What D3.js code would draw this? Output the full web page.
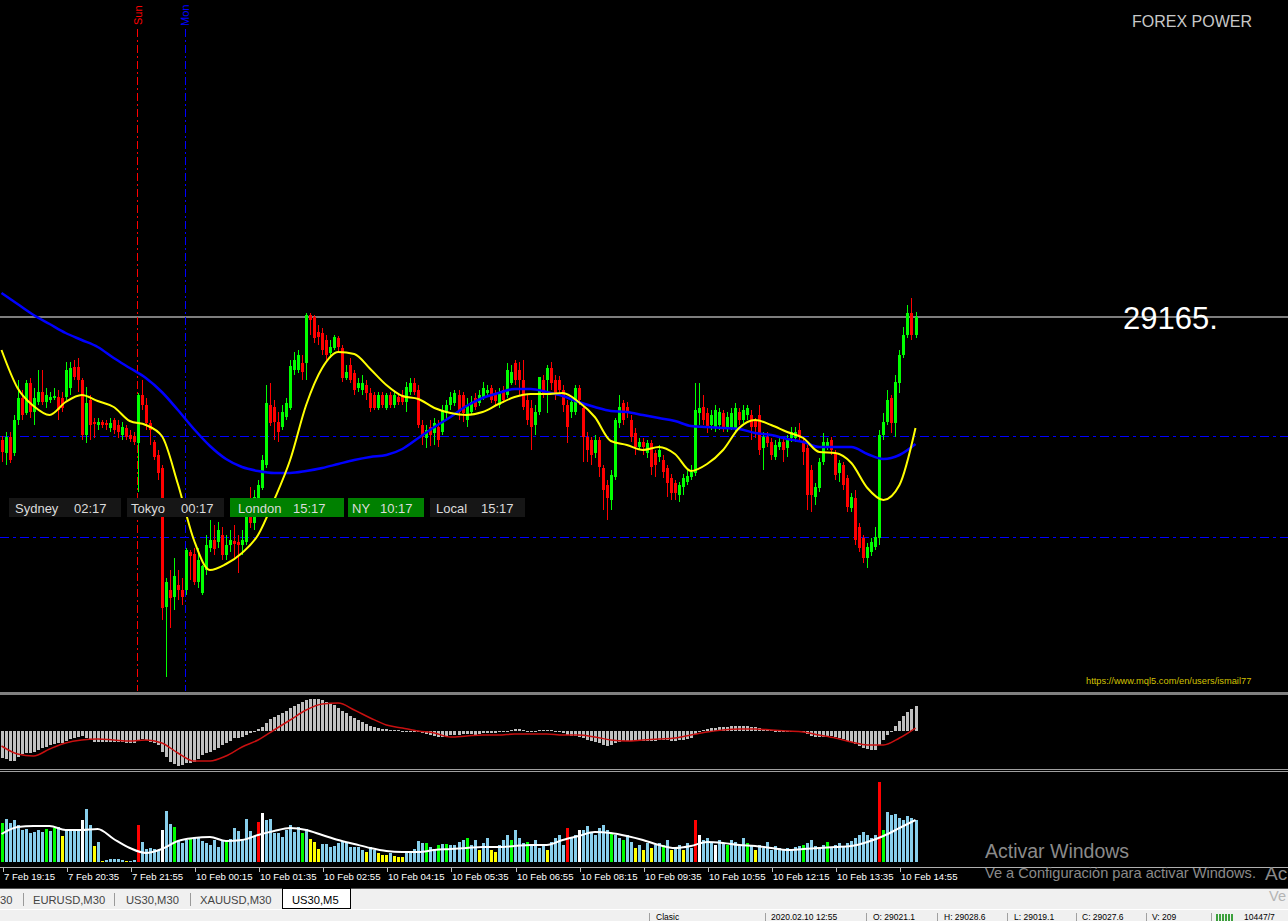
<!DOCTYPE html>
<html><head><meta charset="utf-8">
<script src="https://cdn.jsdelivr.net/npm/d3@7"></script>
<style>
html,body{margin:0;padding:0;background:#000;overflow:hidden}
svg{display:block}
text{font-family:"Liberation Sans",Arial,sans-serif}
</style></head><body>
<svg id="c" width="1288" height="921"></svg>
<script>
// ---------------- DATA ----------------
const opens=[29042,29029,29045,29029,29062,29084,29069,29099,29070,29080,
29090,29080,29082,29084,29085,29084,29085,29094,29115,29115,
29102,29047,29082,29060,29057,29060,29059,29054,29062,29057,
29047,29054,29047,29046,29039,29087,29077,29059,29040,29027,
29014,28875,28892,28885,28897,28892,28892,28930,28928,28900,
28889,28912,28934,28942,28940,28947,28927,28937,28941,28940,
28937,28940,28974,28959,28969,28994,29017,29077,29075,29060,
29055,29065,29074,29112,29112,29119,29119,29167,29165,29150,
29149,29142,29129,29134,29144,29134,29104,29117,29109,29094,
29092,29097,29089,29087,29074,29087,29074,29087,29077,29085,
29087,29080,29090,29099,29092,29057,29044,29055,29049,29055,
29050,29069,29077,29079,29087,29087,29062,29070,29084,29079,
29084,29089,29094,29089,29077,29092,29087,29099,29119,29112,
29102,29082,29074,29057,29070,29102,29102,29114,29102,29102,
29092,29077,29070,29070,29094,29074,29045,29042,29029,29042,
29014,28997,28982,29005,29059,29079,29075,29062,29049,29035,
29040,29029,29039,29029,29025,29022,29014,29004,28999,28987,
28995,29000,29005,29009,29069,29075,29069,29057,29055,29057,
29069,29054,29054,29054,29070,29062,29067,29067,29062,29067,
29034,29045,29040,29025,29035,29040,29034,29044,29044,29052,
29040,29034,29012,28985,28994,29020,29035,29042,29029,29009,
29017,29004,28974,28984,28955,28944,28924,28930,28935,28944,
29047,29060,29084,29059,29099,29127,29147,29169,29147];
const highs=[29046,29050,29050,29067,29102,29092,29102,29104,29094,29112,
29112,29094,29090,29094,29092,29090,29120,29120,29122,29124,
29104,29095,29087,29064,29064,29062,29062,29064,29064,29062,
29060,29057,29052,29050,29089,29102,29084,29062,29042,29032,
29017,28904,28912,28924,28912,28904,28934,28932,28934,28934,
28917,28947,28962,28957,28960,28955,28947,28952,28957,28947,
28952,28977,28995,28992,29002,29027,29097,29099,29082,29070,
29077,29084,29122,29130,29132,29127,29169,29169,29167,29157,
29154,29147,29142,29147,29146,29137,29117,29124,29112,29104,
29107,29102,29094,29090,29090,29090,29089,29090,29090,29089,
29092,29100,29104,29104,29097,29062,29057,29062,29064,29062,
29077,29082,29090,29092,29092,29090,29084,29086,29089,29092,
29100,29097,29097,29092,29094,29096,29119,29117,29122,29120,
29122,29087,29082,29077,29105,29107,29117,29120,29107,29106,
29097,29082,29084,29097,29097,29077,29050,29045,29047,29045,
29017,29002,29012,29064,29087,29082,29080,29067,29054,29044,
29044,29042,29042,29032,29037,29027,29017,29008,29002,29000,
29008,29012,29017,29099,29099,29087,29074,29072,29077,29074,
29072,29070,29074,29079,29074,29077,29077,29072,29064,29077,
29050,29050,29044,29042,29045,29044,29047,29055,29055,29059,
29044,29037,29017,28999,29024,29049,29044,29045,29032,29022,
29020,29007,28989,28992,28959,28947,28939,28944,28955,29052,
29069,29092,29087,29107,29132,29155,29177,29184,29170];
const lows=[29020,29017,29019,29026,29057,29062,29067,29064,29057,29077,
29077,29074,29079,29082,29062,29070,29082,29087,29102,29090,
29042,29039,29042,29044,29052,29054,29052,29050,29048,29044,
29042,29042,29040,29037,28990,29072,29052,29037,29022,29002,
28862,28805,28854,28872,28882,28877,28887,28902,28897,28894,
28887,28907,28930,28927,28934,28922,28922,28930,28922,28909,
28927,28937,28954,28952,28966,28992,29014,29056,29042,29040,
29052,29062,29072,29107,29109,29102,29102,29147,29139,29137,
29127,29122,29124,29132,29130,29100,29102,29099,29087,29090,
29087,29082,29070,29072,29072,29074,29072,29074,29074,29077,
29077,29070,29087,29087,29054,29037,29034,29036,29037,29035,
29047,29062,29072,29076,29062,29060,29055,29067,29072,29076,
29082,29086,29079,29077,29074,29079,29084,29097,29097,29087,
29072,29057,29032,29047,29067,29084,29069,29092,29082,29087,
29070,29039,29064,29067,29077,29020,29020,29017,29024,29005,
28972,28962,28972,29002,29054,29057,29064,29040,29027,29032,
29027,29024,29007,29005,29020,29004,28985,28982,28982,28980,
28987,28997,29002,29006,29057,29057,29049,29052,29050,29052,
29050,29050,29052,29050,29057,29059,29062,29042,29044,29027,
29012,29035,29022,29022,29032,29020,29025,29040,29040,29042,
29017,28972,28970,28977,28990,29017,29032,29027,29002,29000,
28992,28970,28970,28937,28930,28919,28914,28926,28932,28937,
29042,29057,29049,29045,29089,29124,29144,29142,29144];
const closes=[29030,29045,29022,29062,29084,29067,29099,29070,29084,29090,
29080,29087,29085,29086,29072,29074,29112,29114,29105,29102,
29047,29079,29057,29058,29060,29057,29057,29059,29052,29050,
29055,29045,29043,29040,29087,29077,29059,29052,29025,29009,
28874,28900,28884,28906,28892,28885,28932,28926,28900,28922,
28916,28937,28942,28933,28952,28927,28937,28942,28938,28937,
28942,28965,28959,28985,28997,29022,29079,29059,29060,29050,
29070,29079,29116,29122,29127,29110,29167,29162,29144,29145,
29132,29127,29135,29145,29135,29104,29110,29102,29092,29099,
29099,29089,29074,29074,29087,29077,29087,29077,29087,29080,
29080,29095,29099,29090,29057,29045,29052,29047,29059,29042,
29072,29077,29085,29089,29070,29069,29077,29080,29075,29087,
29094,29092,29082,29081,29089,29082,29112,29110,29102,29102,
29075,29062,29055,29070,29105,29089,29114,29099,29087,29092,
29077,29055,29080,29094,29082,29045,29032,29027,29042,29015,
28992,28984,29007,29062,29075,29062,29070,29045,29035,29040,
29035,29039,29015,29017,29032,29010,28999,28989,28989,28997,
29004,29006,29010,29072,29074,29062,29055,29067,29072,29070,
29055,29065,29069,29074,29062,29072,29074,29055,29055,29032,
29045,29039,29027,29037,29040,29032,29044,29050,29050,29045,
29030,28987,28987,28995,29020,29040,29040,29032,29007,29019,
28997,28975,28985,28942,28934,28924,28935,28940,28945,29047,
29060,29082,29059,29100,29127,29147,29169,29147,29165];

// moving averages, read every 4th bar
const maStep=4;
const fastMA=[29132,29094,29076,29067,29080,29087,29081,29075,29061,29057,
29046,28998,28942,28912,28918,28929,28947,28982,29022,29077,
29114,29130,29128,29113,29097,29086,29083,29074,29069,29067,
29070,29078,29085,29088,29088,29089,29080,29065,29041,29037,
29032,29035,29028,29011,29018,29032,29054,29062,29057,29050,
29044,29030,29029,29019,28994,28982,28997,29054];
const slowMA=[29189,29178,29167,29158,29149,29142,29135,29124,29114,29104,
29090,29072,29053,29036,29023,29015,29011,29009,29009,29011,
29014,29018,29022,29025,29027,29033,29044,29055,29065,29076,
29084,29089,29093,29093,29090,29086,29080,29075,29071,29070,
29067,29064,29061,29056,29055,29054,29053,29049,29047,29043,
29040,29035,29035,29035,29028,29023,29027,29038];

// MACD histogram (per bar) and signal (every 4th bar)
const macdHist=[-27,-28,-30,-30,-26,-23,-22,-22,-21,-19,
-17,-16,-14,-13,-12,-12,-10,-8,-7,-6,
-5,-7,-9,-11,-11,-11,-11,-11,-11,-11,
-11,-12,-12,-12,-9,-8,-9,-11,-12,-14,
-21,-26,-31,-33,-35,-34,-32,-32,-31,-28,
-24,-22,-21,-19,-17,-14,-12,-10,-7,-7,
-6,-4,-2,-1,2,4,8,12,14,16,
18,20,23,25,27,29,31,32,32,32,
31,29,28,26,23,20,18,15,13,11,
9,7,5,4,3,2,2,1,1,1,
0,0,0,0,-1,-2,-3,-4,-5,-6,
-6,-5,-4,-4,-4,-3,-3,-3,-4,-3,
-2,-2,-2,-2,-1,-1,0,1,2,2,
1,0,0,0,1,1,1,1,0,-1,
-2,-4,-5,-5,-6,-7,-9,-10,-11,-12,
-14,-15,-14,-12,-11,-10,-10,-10,-10,-10,
-10,-10,-10,-10,-9,-9,-9,-10,-10,-9,
-9,-8,-7,-3,0,1,2,3,3,4,
4,4,5,5,5,5,5,4,4,3,
2,1,1,0,0,0,0,0,0,0,
-1,-3,-5,-6,-6,-6,-5,-5,-6,-7,
-8,-10,-11,-13,-15,-17,-18,-19,-19,-14,
-9,-4,-1,5,10,15,19,22,25];
const macdSignal=[-15,-23,-25,-18,-12,-9,-8,-9,-10,-9,
-12,-22,-30,-30,-25,-16,-9,1,11,21,
27,28,21,13,6,3,0,-2,-6,-5,
-4,-4,-3,-3,-3,-4,-4,-6,-9,-10,
-9,-8,-7,-4,-1,1,2,2,1,0,
-1,-4,-7,-11,-14,-14,-7,3];

// volume (per bar), bar type codes, and volume average (every 4th bar)
const volumes=[39,43,39,42,37,32,33,29,30,32,
30,33,31,34,35,26,32,32,32,32,
42,53,37,16,20,1,2,3,3,3,
2,1,1,2,37,20,13,14,13,12,
32,51,38,35,21,19,22,24,24,24,
21,19,17,22,15,22,21,23,34,31,
23,43,31,26,40,49,42,43,29,29,
25,32,37,30,35,29,33,23,20,13,
18,18,15,16,19,20,19,15,15,15,
12,10,15,12,9,7,7,9,6,5,
5,11,11,13,21,19,19,15,13,17,
18,18,17,17,20,22,24,17,22,12,
19,24,12,10,17,22,27,22,32,24,
19,20,17,22,14,18,12,20,24,27,
17,34,24,27,32,32,36,30,27,34,
37,32,29,27,24,22,27,20,14,17,
12,19,14,17,19,17,22,12,14,17,
12,19,14,42,27,22,24,20,17,22,
19,17,22,20,17,24,19,16,12,17,
14,20,12,16,14,12,14,12,15,16,
17,19,22,16,14,17,20,14,17,19,
15,19,21,24,27,30,27,24,27,80,
32,50,47,48,44,42,46,44,42];
const volumeTypes=("gbbbbbbbbb"+"bgbgbybbbb"+"wbbybybbbb"+"bybbrbbbbb"+"wbbgbbbgbb"+
"bbbbbbgbbb"+"bbbbrwbbbb"+"bbbbbgbyyy"+"bbbbbbbbbb"+"bybbyyybyy"+
"ybbbbbgbbg"+"bgbbbbgbby"+"bbyybbbgbb"+"bgbbbbybbb"+"brbbwbbbbb"+
"bbgbbgbbyb"+"ybybbgbybb"+"ybbrwbbbwb"+"bgbbbbgbyb"+"bbbbbbbbbb"+
"gbbbbbgbbb"+"bbbbbbbbbr"+"gbbbbbbbb").split("");
const volumeMA=[28,35,36,36,32,32,33,23,14,9,
13,21,24,25,21,22,27,31,34,32,
27,22,18,14,11,10,10,12,13,14,
15,15,16,17,17,22,26,30,29,26,
22,17,14,16,20,19,17,16,14,12,
13,14,15,16,20,26,34,42];

// time axis
const tickIndex=[1,17,33,49,65,81,97,113,129,145,161,177,193,209,225];
const tickLabels=["7 Feb 19:15","7 Feb 20:35","7 Feb 21:55","10 Feb 00:15","10 Feb 01:35",
"10 Feb 02:55","10 Feb 04:15","10 Feb 05:35","10 Feb 06:55","10 Feb 08:15",
"10 Feb 09:35","10 Feb 10:55","10 Feb 12:15","10 Feb 13:35","10 Feb 14:55"];

// annotations
const bidPrice=29165;
const levelPrices=[29046,28945];
const dayNames=["Sun","Mon"];
const dayIndex=[34,46];
const sessionNames=["Sydney","Tokyo","London","NY","Local"];
const sessionTimes=["02:17","00:17","15:17","10:17","15:17"];
const sessionActive=[false,false,true,true,false];
const tabNames=["30","EURUSD,M30","US30,M30","XAUUSD,M30","US30,M5"];
const statusItems=["Clasic","2020.02.10 12:55","O: 29021.1","H: 29028.6","L: 29019.1","C: 29027.6","V: 209","10447/7"];

// ---------------- LAYOUT ----------------
const W=1288,H=921;
const svg=d3.select("#c");
svg.append("rect").attr("width",W).attr("height",H).attr("fill","#000");

const n=opens.length;
const x=d3.scaleLinear().domain([0,n-1]).range([1.5,915.5]);
const y=d3.scaleLinear().domain([28800,29200]).range([682,282]);
const yM=d3.scaleLinear().domain([-35,35]).range([766,696]);
const yV=d3.scaleLinear().domain([0,80]).range([862,782]);
const xs=i=>Math.round(x(i));

svg.append("clipPath").attr("id","mainClip").append("rect").attr("x",0).attr("y",0).attr("width",W).attr("height",691);
const main=svg.append("g").attr("clip-path","url(#mainClip)");

// bid line
main.append("line").attr("x1",0).attr("x2",W).attr("y1",y(bidPrice)).attr("y2",y(bidPrice))
  .attr("stroke","#7d7d7d").attr("stroke-width",2);
// level lines
main.selectAll(".lvl").data(levelPrices).join("line").attr("class","lvl")
  .attr("x1",0).attr("x2",W).attr("y1",d=>Math.round(y(d))+0.5).attr("y2",d=>Math.round(y(d))+0.5)
  .attr("stroke","#0000ff").attr("stroke-width",1).attr("stroke-dasharray","9,4,3,4");
// day separators
const dayColors=["#ff0000","#0000ff"];
main.selectAll(".dayl").data(dayIndex).join("line").attr("class","dayl")
  .attr("x1",d=>xs(d)-0.5).attr("x2",d=>xs(d)-0.5).attr("y1",29).attr("y2",691)
  .attr("stroke",(d,k)=>dayColors[k]).attr("stroke-width",1).attr("stroke-dasharray","8,3,2,3");
main.selectAll(".dayt").data(dayIndex).join("text").attr("class","dayt")
  .attr("transform",(d,k)=>`translate(${xs(d)+(k?3:4)},${k?26:25}) rotate(-90)`)
  .attr("font-size",11).attr("fill",(d,k)=>dayColors[k]).text((d,k)=>dayNames[k]);

// candles
const candles=d3.range(n).map(i=>({i,o:opens[i],h:highs[i],l:lows[i],c:closes[i]}));
const gC=main.append("g").attr("shape-rendering","crispEdges");
const col=d=>d.c>=d.o?"#00ff00":"#ff0000";
gC.selectAll(".wick").data(candles).join("rect").attr("class","wick")
  .attr("x",d=>xs(d.i)).attr("width",1)
  .attr("y",d=>Math.round(y(d.h)))
  .attr("height",d=>Math.max(1,Math.round(y(d.l))-Math.round(y(d.h))))
  .attr("fill",col);
gC.selectAll(".body").data(candles).join("rect").attr("class","body")
  .attr("x",d=>xs(d.i)-1).attr("width",3)
  .attr("y",d=>Math.round(y(Math.max(d.o,d.c))))
  .attr("height",d=>Math.max(1,Math.round(y(Math.min(d.o,d.c)))-Math.round(y(Math.max(d.o,d.c)))))
  .attr("fill",col);

// moving averages
const maLine=d3.line().x((d,k)=>x(k*maStep)).y(d=>y(d)).curve(d3.curveMonotoneX);
main.append("path").attr("d",maLine(slowMA)).attr("fill","none").attr("stroke","#0000ff").attr("stroke-width",2.5);
main.append("path").attr("d",maLine(fastMA)).attr("fill","none").attr("stroke","#ffff00").attr("stroke-width",2);

// session boxes
const boxX=[9,127,230,348,430],boxW=[112,97,114,76,95],nameX=[15,131,238,352,436],timeX=[74,181,293,380,481];
const sg=svg.append("g");
sessionNames.forEach((s,k)=>{
  sg.append("rect").attr("x",boxX[k]).attr("y",498).attr("width",boxW[k]).attr("height",19)
    .attr("fill",sessionActive[k]?"#008000":"#161616");
  sg.append("text").attr("x",nameX[k]).attr("y",512.5).attr("font-size",13).attr("fill","#dcdcdc").text(s);
  sg.append("text").attr("x",timeX[k]).attr("y",512.5).attr("font-size",13).attr("fill","#dcdcdc").text(sessionTimes[k]);
});

// texts in main panel
svg.append("text").attr("x",1132).attr("y",27).attr("font-size",16).attr("fill","#c8c8c8").text("FOREX POWER");
svg.append("text").attr("x",1123).attr("y",329).attr("font-size",31).attr("fill","#ffffff").text(bidPrice+".");
svg.append("text").attr("x",1086).attr("y",684).attr("font-size",9.3).attr("fill","#d0c000").text("https://www.mql5.com/en/users/ismail77");

// separators
svg.append("rect").attr("x",0).attr("y",692).attr("width",W).attr("height",3).attr("fill","#808080");
svg.append("rect").attr("x",0).attr("y",769).attr("width",W).attr("height",1).attr("fill","#a0a0a0");
svg.append("rect").attr("x",0).attr("y",771).attr("width",W).attr("height",1).attr("fill","#a0a0a0");

// MACD
const gM=svg.append("g").attr("shape-rendering","crispEdges");
gM.selectAll(".mh").data(macdHist).join("rect").attr("class","mh")
  .attr("x",(d,i)=>xs(i)-1).attr("width",3)
  .attr("y",d=>Math.round(Math.min(yM(d),yM(0))))
  .attr("height",d=>Math.max(1,Math.round(Math.abs(yM(d)-yM(0)))))
  .attr("fill","#c0c0c0");
const sigLine=d3.line().x((d,k)=>x(k*maStep)).y(d=>yM(d)).curve(d3.curveMonotoneX);
svg.append("path").attr("d",sigLine(macdSignal)).attr("fill","none").attr("stroke","#c81010").attr("stroke-width",1.5);

// Volume
const vCol={b:"#87ceeb",g:"#00ff00",y:"#ffff00",r:"#ff0000",w:"#ffffff"};
const gV=svg.append("g").attr("shape-rendering","crispEdges");
gV.selectAll(".vb").data(volumes).join("rect").attr("class","vb")
  .attr("x",(d,i)=>xs(i)-1).attr("width",3)
  .attr("y",d=>Math.round(yV(d))).attr("height",d=>Math.max(1,Math.round(yV(0)-yV(d))))
  .attr("fill",(d,i)=>vCol[volumeTypes[i]]);
const vLine=d3.line().x((d,k)=>x(k*maStep)).y(d=>yV(d)).curve(d3.curveMonotoneX);
svg.append("path").attr("d",vLine(volumeMA)).attr("fill","none").attr("stroke","#ffffff").attr("stroke-width",2);

// time axis
svg.append("rect").attr("x",0).attr("y",867).attr("width",W).attr("height",1).attr("fill","#b0b0b0");
const gT=svg.append("g");
gT.selectAll(".tk").data(tickIndex).join("rect").attr("class","tk")
  .attr("x",d=>xs(d)-3).attr("y",868).attr("width",1).attr("height",4).attr("fill","#c0c0c0");
gT.selectAll(".tl").data(tickIndex).join("text").attr("class","tl")
  .attr("x",d=>xs(d)-2).attr("y",880).attr("font-size",9.6).attr("fill","#ffffff")
  .text((d,k)=>tickLabels[k]);

// windows watermark
svg.append("text").attr("x",985).attr("y",858).attr("font-size",19.5).attr("fill","#8a8a8a").text("Activar Windows");
svg.append("text").attr("x",985).attr("y",878).attr("font-size",14.6).attr("fill","#8a8a8a").text("Ve a Configuración para activar Windows.");

// tab bar
svg.append("rect").attr("x",0).attr("y",888).attr("width",W).attr("height",1).attr("fill","#505050");
svg.append("rect").attr("x",0).attr("y",889).attr("width",W).attr("height",20).attr("fill","#f0f0f0");
const tabX=[0,33,126,200,292];
const sepX=[23,114,190];
sepX.forEach(sx=>svg.append("rect").attr("x",sx).attr("y",893).attr("width",1).attr("height",13).attr("fill","#9a9a9a"));
svg.append("rect").attr("x",282.5).attr("y",888.5).attr("width",68).attr("height",20).attr("fill","#ffffff").attr("stroke","#000").attr("stroke-width",1);
tabNames.forEach((t,k)=>svg.append("text").attr("x",tabX[k]).attr("y",904).attr("font-size",11.2)
  .attr("fill",k===tabNames.length-1?"#000":"#444").text(t));

// status bar
svg.append("rect").attr("x",0).attr("y",909).attr("width",W).attr("height",1).attr("fill","#ffffff");
svg.append("rect").attr("x",0).attr("y",910).attr("width",W).attr("height",11).attr("fill","#f0f0f0");
const stX=[656,771,873,944,1014,1082,1152,1244];
const stSep=[649,765,866,937,1007,1076,1146,1211];
stSep.forEach(sx=>svg.append("rect").attr("x",sx).attr("y",913).attr("width",1).attr("height",8).attr("fill","#a0a0a0"));
statusItems.forEach((t,k)=>svg.append("text").attr("x",stX[k]).attr("y",919.5).attr("font-size",8.5).attr("fill","#000").text(t));
[0,1,2,3,4,5].forEach(k=>svg.append("rect").attr("x",1216+k*3).attr("y",914).attr("width",2).attr("height",7).attr("fill","#3ca03c"));

// second watermark, partly visible at the right edge
svg.append("text").attr("x",1265).attr("y",880).attr("font-size",19).attr("fill","#8a8a8a").text("Ac");
svg.append("text").attr("x",1269).attr("y",901).attr("font-size",14.6).attr("fill","#b4b4b4").text("Ve");
</script>
</body></html>
